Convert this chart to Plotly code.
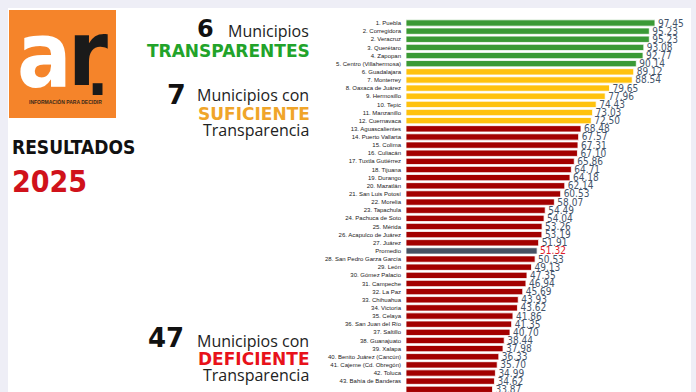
import plotly.graph_objects as go

W, H = 696, 392

labels = ["1. Puebla", "2. Corregidora", "2. Veracruz", "3. Querétaro", "4. Zapopan",
          "5. Centro (Villahermosa)", "6. Guadalajara", "7. Monterrey", "8. Oaxaca de Juárez",
          "9. Hermosillo", "10. Tepic", "11. Manzanillo", "12. Cuernavaca", "13. Aguascalientes",
          "14. Puerto Vallarta", "15. Colima", "16. Culiacán", "17. Tuxtla Gutiérrez", "18. Tijuana",
          "19. Durango", "20. Mazatlán", "21. San Luis Potosí", "22. Morelia", "23. Tapachula",
          "24. Pachuca de Soto", "25. Mérida", "26. Acapulco de Juárez", "27. Juárez", "Promedio",
          "28. San Pedro Garza García", "29. León", "30. Gómez Palacio", "31. Campeche", "32. La Paz",
          "33. Chihuahua", "34. Victoria", "35. Celaya", "36. San Juan del Río", "37. Saltillo",
          "38. Guanajuato", "39. Xalapa", "40. Benito Juárez (Cancún)", "41. Cajeme (Cd. Obregón)",
          "42. Toluca", "43. Bahía de Banderas", "44. Zacatecas"]

values = [97.45, 95.23, 95.23, 93.08, 92.77, 90.14, 89.12, 88.54, 79.65, 77.96, 74.43, 73.03,
          72.50, 68.48, 67.57, 67.31, 67.10, 65.86, 64.71, 64.18, 62.14, 60.53, 58.07, 54.49,
          54.04, 53.26, 53.19, 51.91, 51.32, 50.53, 49.13, 47.35, 46.94, 45.69, 43.93, 43.62,
          41.86, 41.35, 40.70, 38.44, 37.98, 36.33, 35.70, 34.99, 34.62, 33.87]

groups = ["T"] * 6 + ["S"] * 7 + ["D"] * 15 + ["P"] + ["D"] * 17

group_colors = {"T": "#3a9a35", "S": "#ffc20e", "D": "#a30000", "P": "#475264"}
text_colors = {"T": "#44546a", "S": "#44546a", "D": "#44546a", "P": "#e0202a"}

idx = list(range(len(labels)))
bar_colors = [group_colors[g] for g in groups]
txt_colors = [text_colors[g] for g in groups]

fig = go.Figure()
fig.add_trace(go.Bar(
    x=values, y=idx, orientation="h",
    width=0.78,
    marker=dict(color=bar_colors, line=dict(color="white", width=0.8)),
    text=[f"{v:.2f}" for v in values],
    textposition="outside",
    textfont=dict(family="DejaVu Sans Condensed, sans-serif", size=10, color=txt_colors),
    constraintext="none",
    cliponaxis=False,
    hoverinfo="skip",
))

px_per_row = 8.14
row0_y = 23
ytop = -row0_y / px_per_row
ybot = ytop + H / px_per_row

x0_px, x1_px = 406, 691
px_per_unit = 2.555

fig.update_layout(
    width=W, height=H,
    margin=dict(l=0, r=0, t=0, b=0),
    paper_bgcolor="#eeeef6",
    plot_bgcolor="rgba(0,0,0,0)",
    showlegend=False,
    xaxis=dict(domain=[x0_px / W, x1_px / W], range=[0, (x1_px - x0_px) / px_per_unit],
               visible=False, fixedrange=True, automargin=False),
    yaxis=dict(domain=[0, 1], range=[ybot, ytop], tickvals=idx, ticktext=labels,
               tickfont=dict(family="Liberation Sans, Arial, sans-serif", size=6, color="#222222"),
               ticks="", showgrid=False, zeroline=False, showline=False, ticklabelstandoff=4,
               automargin=False, fixedrange=True),
)

# white panel
fig.add_shape(type="rect", xref="paper", yref="paper", x0=8 / W, x1=691 / W, y0=0, y1=1 - 8 / H,
              fillcolor="white", line=dict(width=0), layer="below")
# logo box
fig.add_shape(type="rect", xref="paper", yref="paper", x0=9 / W, x1=116 / W, y0=1 - 118 / H, y1=1 - 10 / H,
              fillcolor="#f5842a", line=dict(width=0), layer="below")


def ann(text, x, y, size, color, family="Open Sans, sans-serif", xanchor="right"):
    fig.add_annotation(text=text, xref="paper", yref="paper", x=x / W, y=1 - y / H,
                       xanchor=xanchor, yanchor="middle", showarrow=False,
                       font=dict(size=size, color=color, family=family))


HEAVY = "DejaVu Sans, sans-serif"
COND = "DejaVu Sans Condensed, DejaVu Sans, sans-serif"

# logo letters
ann("<b>a</b>", 44, 56, 90, "white", COND, xanchor="center")
ann("<b>r</b>", 88, 54, 90, "#1a1a1a", COND, xanchor="center")
ann("<b>.</b>", 97, 73, 62, "#1a1a1a", COND, xanchor="center")
ann("<b>INFORMACIÓN PARA DECIDIR</b>", 65, 101, 5, "#3b2a1a", "Liberation Sans, sans-serif", xanchor="center")

ann("<b>RESULTADOS</b>", 10, 147, 19, "#111111", COND, xanchor="left")
ann("<b>2025</b>", 10, 181, 30, "#d0121b", COND, xanchor="left")

# category texts
ann("<b>6</b>", 216, 29, 24, "#111111", HEAVY)
ann("Municipios", 311, 31, 16, "#222222")
ann("<b>TRANSPARENTES</b>", 312, 51, 17, "#22a32a", HEAVY)

ann("<b>7</b>", 188, 94, 27, "#111111", HEAVY)
ann("Municipios con", 311, 95, 16, "#222222")
ann("<b>SUFICIENTE</b>", 312, 114, 17, "#f0a52a", HEAVY)
ann("Transparencia", 311, 130, 16, "#222222")

ann("<b>47</b>", 186, 338, 26, "#111111", HEAVY)
ann("Municipios con", 311, 341, 16, "#222222")
ann("<b>DEFICIENTE</b>", 312, 359, 17, "#e8121a", HEAVY)
ann("Transparencia", 311, 375, 16, "#222222")

fig.write_html("out.html", config={"displayModeBar": False, "staticPlot": True},
               post_script="document.body.style.margin='0';document.body.style.background='#eeeef6';")
